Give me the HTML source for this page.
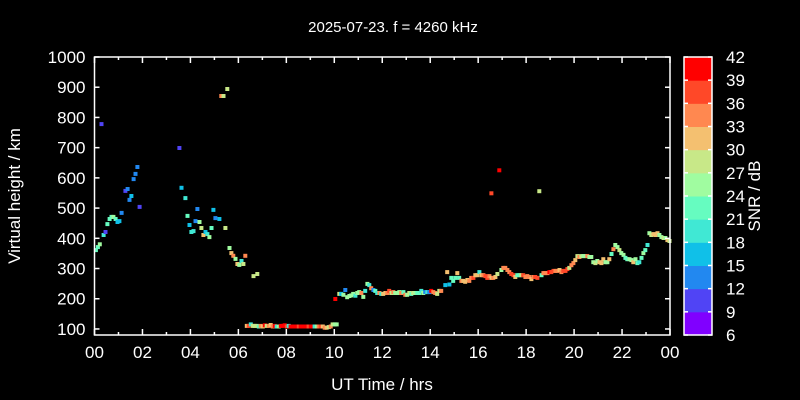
<!DOCTYPE html>
<html><head><meta charset="utf-8"><style>
html,body{margin:0;padding:0;background:#000;width:800px;height:400px;overflow:hidden}
svg{display:block;font-family:"Liberation Sans",sans-serif}
</style></head><body>
<svg id="chart" width="800" height="400" viewBox="0 0 800 400">
<rect width="800" height="400" fill="#000"/>
<text x="393" y="32" fill="#fff" font-size="15" text-anchor="middle">2025-07-23. f = 4260 kHz</text>
<text x="20" y="196" fill="#fff" font-size="17" text-anchor="middle" transform="rotate(-90 20 196)">Virtual height / km</text>
<text x="382" y="390" fill="#fff" font-size="17" text-anchor="middle">UT Time / hrs</text>
<text x="760" y="196" fill="#fff" font-size="17" text-anchor="middle" transform="rotate(-90 760 196)">SNR / dB</text>
<g id="marks"></g>
<g id="axes"></g>
<g id="cbar"></g>
</svg>
<script>
const hours = [
0.06,0.14,0.22,0.29,0.38,0.46,0.54,0.63,0.71,0.79,0.88,0.96,1.04,1.13,1.29,1.38,1.46,1.54,1.63,1.71,1.79,1.88,
3.54,3.63,3.79,3.88,3.96,4.04,4.13,4.21,4.29,4.38,4.46,4.54,4.63,4.71,4.79,4.88,4.96,5.04,5.21,5.29,5.38,5.46,5.54,5.63,5.71,5.79,5.88,5.96,6.04,6.13,6.21,6.29,6.63,6.79,
6.35,6.43,6.52,6.60,6.68,6.77,6.85,6.93,7.02,7.10,7.18,7.27,7.35,7.43,7.52,7.60,7.68,7.77,7.85,7.93,8.02,8.10,8.18,8.27,8.35,8.43,8.52,8.60,8.68,8.77,8.85,8.93,9.02,9.10,9.18,9.27,9.35,9.43,9.52,9.60,9.68,9.77,9.85,9.93,10.02,10.10,
10.04,
10.21,10.29,10.38,10.46,10.54,10.63,10.71,10.79,10.88,10.96,11.04,11.13,11.21,11.29,11.38,11.46,11.54,11.63,11.71,11.79,11.88,11.96,12.04,12.13,12.21,12.29,12.38,12.46,12.54,12.63,12.71,12.79,12.88,12.96,13.04,13.13,13.21,13.29,13.38,13.46,13.54,13.63,13.71,13.79,13.88,13.96,14.04,14.13,14.21,14.29,14.38,14.46,
14.63,14.71,14.80,14.88,14.96,15.05,15.13,15.21,15.30,15.38,15.46,15.55,15.63,15.71,15.80,15.88,15.96,16.05,16.13,16.22,16.30,16.38,16.47,16.55,16.63,16.72,16.80,16.97,17.05,17.13,17.22,17.30,17.38,17.47,17.55,17.63,17.72,17.80,17.88,17.97,18.05,18.13,18.22,18.30,18.38,18.47,
18.64,18.72,18.80,18.89,18.97,19.05,19.14,19.22,19.30,19.39,19.47,19.55,19.64,19.72,19.80,19.89,19.97,20.05,20.14,20.22,20.30,20.39,20.47,20.55,20.64,20.72,20.80,20.89,20.97,21.06,21.14,21.22,21.31,21.39,21.47,21.56,21.64,21.72,21.81,21.89,21.97,22.06,22.14,22.22,22.31,22.39,22.47,22.56,22.64,22.72,22.81,22.89,22.97,23.06,23.14,23.22,23.31,23.39,23.48,23.56,23.64,23.73,23.81,23.89,23.98,
16.88,16.55,18.55
];
const heights = [
361,371,380,778,411,421,447,464,471,471,464,454,457,484,557,563,527,540,596,613,636,504,
699,567,533,474,444,421,424,457,497,454,434,411,421,414,404,434,494,467,464,871,871,434,894,368,351,342,332,315,312,325,315,342,275,282,
110,110,115,110,110,110,108,110,108,112,110,110,113,108,110,108,108,110,110,112,108,110,108,108,108,108,108,108,108,108,108,108,108,108,108,108,108,108,108,104,104,106,108,115,115,115,
199,
216,216,213,229,205,209,211,216,210,219,222,219,206,226,249,245,235,229,226,219,219,216,216,219,219,226,219,222,219,219,222,219,222,213,213,219,216,219,219,219,219,226,219,222,222,222,226,222,219,216,226,226,
245,288,247,269,259,269,285,269,259,259,256,262,259,269,269,278,278,288,278,278,275,269,275,269,269,272,282,295,302,302,295,288,282,278,272,278,278,278,278,272,275,272,265,272,272,269,
278,285,285,285,288,288,292,292,292,295,288,292,292,298,302,311,318,328,341,338,341,341,341,341,338,338,321,318,325,321,318,331,321,321,331,348,364,378,371,361,351,345,335,331,331,328,321,331,318,321,335,351,361,378,417,411,414,411,417,411,404,401,401,394,391,
625,549,556
];
const snrs = [
21,21,24,9,18,9,21,21,21,24,21,15,15,12,9,12,12,15,12,12,12,9,
9,15,18,21,15,18,18,12,12,24,27,30,15,18,24,21,15,12,15,33,27,27,27,24,30,33,24,30,24,18,27,33,27,27,
32,38,20,27,27,27,22,33,31,40,28,33,30,34,40,20,25,40,40,40,36,20,40,40,40,40,36,40,40,40,40,37,40,40,20,25,33,38,30,33,30,28,33,27,25,25,
40,
27,15,24,14,24,24,24,24,19,24,26,34,24,19,24,20,34,14,22,20,33,20,32,30,33,36,29,33,24,26,24,34,23,34,24,28,23,29,24,23,22,20,24,14,19,14,40,33,33,29,28,34,
16,31,15,22,23,22,31,22,33,30,31,30,34,33,37,31,30,19,32,34,36,37,34,32,33,31,27,24,34,33,34,35,36,36,31,22,22,27,37,34,34,33,31,35,36,38,
23,34,35,33,40,36,36,35,33,31,33,37,38,36,27,35,34,31,29,33,27,26,26,33,24,25,24,27,26,31,31,31,25,25,31,22,34,24,25,27,24,25,21,22,24,25,31,24,22,19,21,26,22,19,24,27,30,31,32,24,24,27,25,30,28,
40,38,28
];
const yTicks = [100,200,300,400,500,600,700,800,900,1000];
const xTickLabels = ["00","02","04","06","08","10","12","14","16","18","20","22","00"];
const cbarLabels = [6,9,12,15,18,21,24,27,30,33,36,39,42];
const cbarColors = ["#8000ff","#5044f5","#2288f0","#10c0e8","#40e8d4","#66fcc0","#a0fca0","#c8e888","#f4c070","#ff8850","#ff4828","#ff0000"];

const NS="http://www.w3.org/2000/svg";
const L=94.5,R=670,T=57,B=335;
const X0=0,X1=24,Y0=80,Y1=1000;
function xs(h){return L+(h-X0)/(X1-X0)*(R-L);}
function ys(v){return B-(v-Y0)/(Y1-Y0)*(B-T);}
function mk(tag,attrs,parent){const e=document.createElementNS(NS,tag);for(const k in attrs)e.setAttribute(k,attrs[k]);parent.appendChild(e);return e;}
function colorOf(s){let i=Math.floor((s-6)/3);if(i<0)i=0;if(i>11)i=11;return cbarColors[i];}

const marks=document.getElementById('marks');
for(let i=0;i<hours.length;i++){
  const x=xs(hours[i]),y=ys(heights[i]);
  if(x<L-1||x>R+1||y<T||y>B)continue;
  const r=mk('rect',{x:(x-2).toFixed(1),y:(y-2).toFixed(1),width:4,height:4,fill:colorOf(snrs[i])},marks);
  
  
}

const ax=document.getElementById('axes');
const frame=mk('rect',{x:L,y:T,width:R-L,height:B-T,fill:'none',stroke:'#fff','stroke-width':1.5},ax);


yTicks.forEach(v=>{
  const y=ys(v);
  mk('line',{x1:L,x2:L+5,y1:y,y2:y,stroke:'#fff','stroke-width':1.5},ax);
  mk('line',{x1:R,x2:R-5,y1:y,y2:y,stroke:'#fff','stroke-width':1.5},ax);
  const t=mk('text',{x:L-9,y:y+6,fill:'#fff','font-size':17,'text-anchor':'end'},ax);
  t.textContent=v;
  
  
});
for(let h=0;h<=24;h++){
  const x=xs(h),len=(h%2===0)?6:3;
  mk('line',{x1:x,x2:x,y1:B,y2:B-len,stroke:'#fff','stroke-width':1.5},ax);
  mk('line',{x1:x,x2:x,y1:T,y2:T+len,stroke:'#fff','stroke-width':1.5},ax);
}
xTickLabels.forEach((lab,i)=>{
  const t=mk('text',{x:xs(i*2),y:B+23,fill:'#fff','font-size':17,'text-anchor':'middle'},ax);
  t.textContent=lab;
  
  
});

const cb=document.getElementById('cbar');
const CL=684,CR=712,n=cbarColors.length,bh=(B-T)/n;
cbarColors.forEach((c,i)=>{
  const r=mk('rect',{x:CL,y:B-(i+1)*bh,width:CR-CL,height:bh+0.5,fill:c},cb);
  
  
});
mk('rect',{x:CL,y:T,width:CR-CL,height:B-T,fill:'none',stroke:'#fff','stroke-width':1.5},cb);
cbarLabels.forEach((v,i)=>{
  const y=B-i*bh;
  mk('line',{x1:CL,x2:CL+4,y1:y,y2:y,stroke:'#fff','stroke-width':1.5},cb);
  mk('line',{x1:CR,x2:CR-4,y1:y,y2:y,stroke:'#fff','stroke-width':1.5},cb);
  const t=mk('text',{x:726,y:y+6,fill:'#fff','font-size':17},cb);
  t.textContent=v;
  
  
});
</script>
</body></html>
